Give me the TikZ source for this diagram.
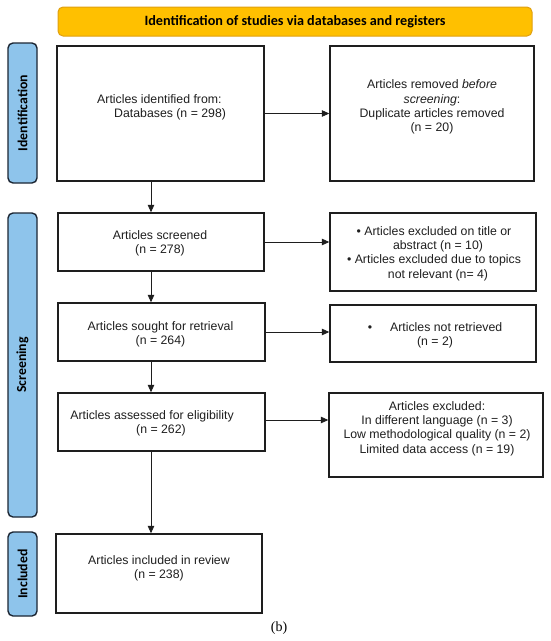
\documentclass[tikz,border=0pt]{standalone}
\usepackage{fontspec}
\setmainfont{Liberation Sans}
\newfontfamily\hdfont{Carlito}
\newfontfamily\capfont{Liberation Serif}
\usetikzlibrary{arrows.meta}
\definecolor{hdfill}{HTML}{FFC000}
\definecolor{hdline}{HTML}{E0A010}
\definecolor{sbfill}{HTML}{8EC4EB}
\definecolor{sbline}{HTML}{1C2633}
\definecolor{boxline}{HTML}{1E1E1E}
\tikzset{
  box/.style={draw=boxline, line width=1.4pt, fill=white, rectangle, inner sep=0pt},
  txt/.style={font=\fontsize{12.3}{14.3}\selectfont, align=center, inner sep=0pt, text=black!88},
  header/.style={draw=hdline, line width=1pt, fill=hdfill, rounded corners=5pt, inner sep=0pt,
    font=\hdfont\bfseries\fontsize{14.2}{16}\selectfont},
  side/.style={draw=sbline, line width=1.4pt, fill=sbfill, rounded corners=5pt, inner sep=0pt,
    minimum width=29pt, font=\hdfont\bfseries\fontsize{13.8}{16}\selectfont},
  arr/.style={-{Triangle[length=7.5pt,width=6.5pt]}, line width=0.8pt, draw=boxline},
}
\begin{document}
\begin{tikzpicture}[x=1pt,y=-1pt]
\useasboundingbox[fill=white] (0,0) rectangle (550,641);
% header
\node[header, minimum width=474pt, minimum height=29pt] (hdr) at (295,21.5)
  {Identification of studies via databases and registers};
% side bars
\node[side, minimum height=140pt] (sbid) at (22.5,113) {\rotatebox{90}{Identification}};
\node[side, minimum height=304pt] (sbsc) at (22.5,365) {\rotatebox{90}{Screening}};
\node[side, minimum height=84pt] (sbin) at (22.5,574) {\rotatebox{90}{Included}};
% boxes
\node[box, minimum width=207pt, minimum height=135pt] (id) at (160.5,113.5) {};
\node[box, minimum width=204pt, minimum height=135pt] (rem) at (432,113.5) {};
\node[box, minimum width=206pt, minimum height=58pt] (scr) at (161,242) {};
\node[box, minimum width=206pt, minimum height=78pt] (ex1) at (433,252) {};
\node[box, minimum width=207pt, minimum height=58pt] (sou) at (161.5,332) {};
\node[box, minimum width=206pt, minimum height=57pt] (nr) at (433,333.5) {};
\node[box, minimum width=207pt, minimum height=58pt] (ass) at (161.5,422) {};
\node[box, minimum width=214pt, minimum height=84pt] (ex2) at (436,435) {};
\node[box, minimum width=206pt, minimum height=79pt] (inc) at (159,573.5) {};
% texts
\node[txt, align=left, anchor=west] (idt) at (97,107)
  {Articles identified from:\\\hspace*{17pt}Databases (n = 298)};
\node[txt] (remt) at (432,107)
  {Articles removed \textit{before}\\\textit{screening}:\\Duplicate articles removed\\(n = 20)};
\node[txt] (scrt) at (160,243.5) {Articles screened\\(n = 278)};
\node[txt] (ex1t) at (434,253.5)
  {• Articles excluded on title or\\\hspace*{8pt}abstract (n = 10)\\• Articles excluded due to topics\\\hspace*{8pt}not relevant (n= 4)};
\node[txt] (sout) at (160.5,334) {Articles sought for retrieval\\(n = 264)};
\node[txt] (nrt) at (435,335) {•\hspace{18pt}Articles not retrieved\\(n = 2)};
\node[txt] (asst) at (152,423.5) {Articles assessed for eligibility\\\hspace*{18pt}(n = 262)};
\node[txt] (ex2t) at (437,428.5)
  {Articles excluded:\\In different language (n = 3)\\Low methodological quality (n = 2)\\Limited data access (n = 19)};
\node[txt] (inct) at (159,568) {Articles included in review\\(n = 238)};
\node[inner sep=0pt, font=\capfont\fontsize{14}{16}\selectfont] (cap) at (279,628) {(b)};
% connectors
\draw[arr] (id.east) -- (rem.west);
\draw[arr] (scr.east) -- (scr.east -| ex1.west);
\draw[arr] (sou.east) -- (sou.east -| nr.west);
\draw[arr] ([yshift=2pt]ass.east) -- ([yshift=2pt]ass.east -| ex2.west);
\draw[arr] ([xshift=-9.5pt]id.south) -- ([xshift=-9.5pt]id.south |- scr.north);
\draw[arr] ([xshift=-10pt]scr.south) -- ([xshift=-10pt]scr.south |- sou.north);
\draw[arr] ([xshift=-10.5pt]sou.south) -- ([xshift=-10.5pt]sou.south |- ass.north);
\draw[arr] ([xshift=-10.5pt]ass.south) -- ([xshift=-10.5pt]ass.south |- inc.north);
\end{tikzpicture}
\end{document}
